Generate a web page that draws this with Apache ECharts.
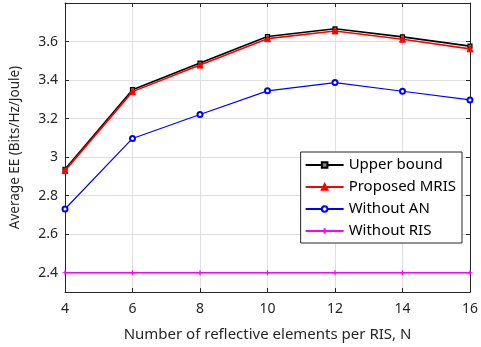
<!DOCTYPE html>
<html><head><meta charset="utf-8">
<script src="https://cdn.jsdelivr.net/npm/echarts@6/dist/echarts.min.js"></script>
<style>html,body{margin:0;padding:0;background:#fff}#c{width:481px;height:347px}</style>
</head><body><div id="c"></div>
<script>
const categories = [4, 6, 8, 10, 12, 14, 16];
const upperBound = [2.937, 3.350, 3.488, 3.626, 3.666, 3.624, 3.576];
const proposedMRIS = [2.930, 3.340, 3.478, 3.615, 3.655, 3.612, 3.562];
const withoutAN = [2.731, 3.097, 3.221, 3.344, 3.387, 3.342, 3.297];
const withoutRIS = [2.4, 2.4, 2.4, 2.4, 2.4, 2.4, 2.4];
const seriesNames = ['Upper bound', 'Proposed MRIS', 'Without AN', 'Without RIS'];
const xTicks = [4, 6, 8, 10, 12, 14, 16];
const yTicks = [2.4, 2.6, 2.8, 3, 3.2, 3.4, 3.6];

const font = 'Noto Sans';
const chart = echarts.init(document.getElementById('c'));
const pair = arr => categories.map((x, i) => [x, arr[i]]);
const plus = 'path://M0,5L10,5M5,0L5,10';
chart.setOption({
  animation: false,
  grid: {left: 60, right: 8, top: 3, bottom: 54},
  legend: {
    orient: 'vertical', right: 19, top: 152,
    backgroundColor: '#fff', borderColor: '#262626', borderWidth: 1,
    padding: [4, 6, 3, 4], itemGap: 4, itemWidth: 38, itemHeight: 7,
    textStyle: {fontFamily: font, fontSize: 15, color: '#000', lineHeight: 18},
    data: seriesNames
  },
  xAxis: [{
    type: 'value', min: 4, max: 16, interval: 2,
    name: 'Number of reflective elements per RIS, N', nameLocation: 'middle', nameGap: 35,
    nameTextStyle: {fontFamily: font, fontSize: 15, color: '#262626'},
    axisLine: {lineStyle: {color: '#262626'}},
    axisTick: {inside: true, length: 4, lineStyle: {color: '#262626'}},
    axisLabel: {fontFamily: font, fontSize: 14, color: '#262626', margin: 10},
    splitLine: {show: true, lineStyle: {color: '#dfdfdf'}}
  }, {
    type: 'value', position: 'top', min: 4, max: 16, interval: 2,
    axisLine: {show: true, lineStyle: {color: '#262626'}},
    axisTick: {show: true, inside: true, length: 4, lineStyle: {color: '#262626'}},
    axisLabel: {show: false}, splitLine: {show: false}
  }],
  yAxis: [{
    type: 'value', min: 2.3, max: 3.8,
    name: 'Average EE (Bits/Hz/Joule)', nameLocation: 'middle', nameGap: 43,
    nameTextStyle: {fontFamily: font, fontSize: 13.5, color: '#262626'},
    axisLine: {show: true, lineStyle: {color: '#262626'}},
    axisTick: {show: true, inside: true, length: 4, lineStyle: {color: '#262626'},
      customValues: yTicks},
    axisLabel: {fontFamily: font, fontSize: 14, color: '#262626', margin: 7,
      customValues: yTicks, formatter: v => String(+v.toFixed(1))},
    splitLine: {show: true, lineStyle: {color: '#dfdfdf'}, customValues: yTicks}
  }, {
    type: 'value', position: 'right', min: 2.3, max: 3.8,
    axisLine: {show: true, lineStyle: {color: '#262626'}},
    axisTick: {show: true, inside: true, length: 4, lineStyle: {color: '#262626'}, customValues: yTicks},
    axisLabel: {show: false}, splitLine: {show: false}
  }],
  series: [
    {name: seriesNames[0], type: 'line', data: pair(upperBound), z: 3,
      symbol: 'rect', symbolSize: 4,
      lineStyle: {color: '#000', width: 1.6},
      itemStyle: {color: '#808080', borderColor: '#000', borderWidth: 1.2}},
    {name: seriesNames[1], type: 'line', data: pair(proposedMRIS), z: 4,
      symbol: 'triangle', symbolSize: 6,
      lineStyle: {color: '#ff0000', width: 1.6},
      itemStyle: {color: '#ff0000', borderColor: '#ff0000', borderWidth: 1}},
    {name: seriesNames[2], type: 'line', data: pair(withoutAN), z: 3,
      symbol: 'emptyCircle', symbolSize: 5,
      lineStyle: {color: '#0000ff', width: 1.2},
      itemStyle: {color: '#0000ff', borderColor: '#0000ff', borderWidth: 1.2}},
    {name: seriesNames[3], type: 'line', data: pair(withoutRIS), z: 3,
      symbol: plus, symbolSize: 5,
      lineStyle: {color: '#ff00ff', width: 1.6},
      itemStyle: {color: '#ff00ff', borderColor: '#ff00ff', borderWidth: 1.2}}
  ]
});
</script></body></html>
